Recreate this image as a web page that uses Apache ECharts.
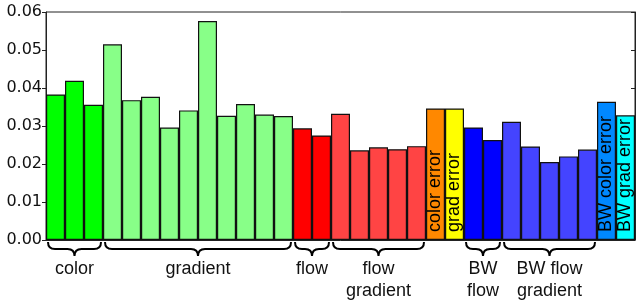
<!DOCTYPE html>
<html><head><meta charset="utf-8">
<script src="https://cdn.jsdelivr.net/npm/echarts@6/dist/echarts.min.js"></script>
<style>html,body{margin:0;padding:0;background:#fff}#c{width:640px;height:301px}</style>
</head><body><div id="c"></div>
<script>
// Group names (bottom labels) and per-group values
const groupNames = ['color', 'gradient', 'flow', 'flow\ngradient', 'color error', 'grad error', 'BW\nflow', 'BW flow\ngradient', 'BW color error', 'BW grad error'];
const colorVals = [0.0383, 0.0419, 0.0356];
const gradientVals = [0.0515, 0.0368, 0.0377, 0.0296, 0.0341, 0.0576, 0.0327, 0.0358, 0.0330, 0.0326];
const flowVals = [0.0294, 0.0275];
const flowGradientVals = [0.0332, 0.0236, 0.0244, 0.0239, 0.0247];
const colorErrorVals = [0.0346];
const gradErrorVals = [0.0346];
const bwFlowVals = [0.0296, 0.0263];
const bwFlowGradientVals = [0.0311, 0.0246, 0.0205, 0.0220, 0.0238];
const bwColorErrorVals = [0.0364];
const bwGradErrorVals = [0.0328];
const groupColors = ['#00ff00', '#88ff88', '#ff0000', '#ff4444', '#ff8800', '#ffff00', '#0000ff', '#4444ff', '#0088ff', '#00ffff'];
// groups with braces below, others get rotated in-bar label
const braceGroups = [true, true, true, true, false, false, true, true, false, false];
const yTicks = [0, 0.01, 0.02, 0.03, 0.04, 0.05, 0.06];

const groups = [colorVals, gradientVals, flowVals, flowGradientVals, colorErrorVals, gradErrorVals, bwFlowVals, bwFlowGradientVals, bwColorErrorVals, bwGradErrorVals];

const cats = [];
const barData = [];
const braceData = [];
let idx = 0;
groups.forEach((vals, g) => {
  const start = idx;
  vals.forEach((v, i) => {
    cats.push(groupNames[g].replace('\n', ' ') + ' ' + (i + 1));
    const item = { value: v, itemStyle: { color: groupColors[g] } };
    if (!braceGroups[g]) {
      item.label = {
        show: true, formatter: groupNames[g], position: 'insideBottom', rotate: 90,
        align: 'left', verticalAlign: 'middle', distance: 8,
        fontFamily: 'Liberation Sans', fontSize: 18, color: '#000'
      };
    }
    barData.push(item);
    idx++;
  });
  if (braceGroups[g]) braceData.push([start, idx - 1, groupNames[g]]);
});

const chart = echarts.init(document.getElementById('c'), null, { renderer: 'canvas' });
chart.setOption({
  animation: false,
  grid: { left: 46, right: 5, top: 12, bottom: 61, show: true, borderColor: '#222', borderWidth: 1, backgroundColor: 'transparent' },
  xAxis: {
    type: 'category', data: cats, boundaryGap: true,
    axisLine: { show: true, lineStyle: { color: '#222', width: 1 } },
    axisTick: { show: false }, axisLabel: { show: false }, splitLine: { show: false }
  },
  yAxis: [{
    type: 'value', min: yTicks[0], max: yTicks[yTicks.length - 1], interval: 0.01,
    axisLine: { show: true, lineStyle: { color: '#222' } },
    axisTick: { show: true, length: 4, lineStyle: { color: '#222' } },
    axisLabel: { formatter: v => v.toFixed(2), fontFamily: 'DejaVu Sans', fontSize: 16, color: '#111', margin: 4 },
    splitLine: { show: false }
  }, {
    type: 'value', position: 'right', min: yTicks[0], max: yTicks[yTicks.length - 1], interval: 0.01,
    axisLine: { show: true, lineStyle: { color: '#222' } },
    axisTick: { show: true, inside: true, length: 4, lineStyle: { color: '#222' } },
    axisLabel: { show: false }, splitLine: { show: false }
  }],
  series: [{
    type: 'bar', data: barData, barCategoryGap: 0, barGap: 0,
    itemStyle: { borderColor: '#111', borderWidth: 1.2 }
  }, {
    type: 'custom', data: braceData, clip: false, z: 10,
    renderItem: function (params, api) {
      const s = api.value(0), e = api.value(1);
      const bw = api.size([1, 0])[0];
      const x1 = api.coord([s, 0])[0] - bw / 2 + 2;
      const x2 = api.coord([e, 0])[0] + bw / 2 - 2;
      const yb = api.coord([s, 0])[1];
      const y0 = yb + 2, ym = yb + 9, yt = yb + 16, r = 7;
      const xc = (x1 + x2) / 2;
      const path = `M${x1},${y0} Q${x1},${ym} ${x1 + r},${ym} L${xc - r},${ym} Q${xc},${ym} ${xc},${yt} Q${xc},${ym} ${xc + r},${ym} L${x2 - r},${ym} Q${x2},${ym} ${x2},${y0}`;
      return {
        type: 'group', children: [
          { type: 'path', shape: { pathData: path }, style: { stroke: '#000', lineWidth: 2, fill: null } },
          { type: 'text', style: { text: braceData[params.dataIndex][2], x: xc, y: yb + 18, align: 'center', verticalAlign: 'top', fontFamily: 'Liberation Sans', fontSize: 18, lineHeight: 22, fill: '#111' } }
        ]
      };
    }
  }]
});
</script></body></html>
